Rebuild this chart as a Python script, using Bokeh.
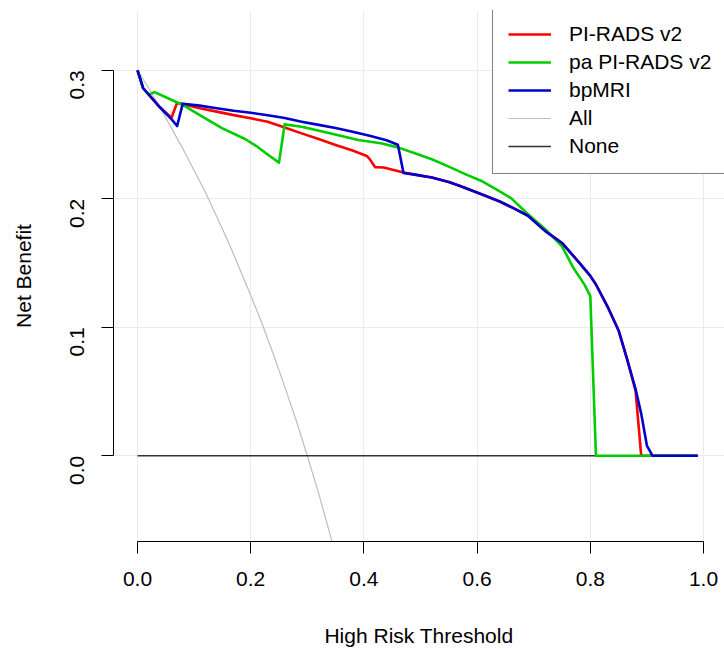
import math
from bokeh.plotting import figure
from bokeh.models import Range1d, FixedTicker, Legend, LegendItem
from bokeh.embed import file_html
from bokeh.resources import INLINE

# ---------------- data ----------------
x_ticks = [0.0, 0.2, 0.4, 0.6, 0.8, 1.0]
x_tick_labels = ["0.0", "0.2", "0.4", "0.6", "0.8", "1.0"]
y_ticks = [0.0, 0.1, 0.2, 0.3]
y_tick_labels = ["0.0", "0.1", "0.2", "0.3"]

series_names = ["PI-RADS v2", "pa PI-RADS v2", "bpMRI", "All", "None"]

pirads_x = [0.00, 0.01, 0.02, 0.04, 0.06, 0.07, 0.11, 0.14, 0.17, 0.20, 0.23, 0.26,
            0.29, 0.32, 0.35, 0.38, 0.405, 0.41, 0.42, 0.435, 0.47, 0.49, 0.52, 0.55,
            0.57, 0.61, 0.64, 0.665, 0.69, 0.72, 0.75, 0.78, 0.80, 0.81, 0.83, 0.85,
            0.865, 0.88, 0.89, 0.99]
pirads_y = [0.300, 0.286, 0.281, 0.271, 0.263, 0.2747, 0.2705, 0.2678, 0.2651, 0.2626,
            0.2600, 0.2555, 0.2509, 0.2465, 0.2419, 0.2375, 0.2333, 0.2310, 0.2246,
            0.2243, 0.2204, 0.2188, 0.2166, 0.2130, 0.2100, 0.2031, 0.1979, 0.1925,
            0.1868, 0.1750, 0.1656, 0.1505, 0.1400, 0.1333, 0.1165, 0.0975, 0.0752,
            0.0505, 0.0, 0.0]

pa_x = [0.00, 0.01, 0.02, 0.03, 0.05, 0.08, 0.11, 0.15, 0.19, 0.21, 0.23, 0.25, 0.26,
        0.29, 0.34, 0.39, 0.43, 0.46, 0.49, 0.52, 0.55, 0.58, 0.61, 0.64, 0.66, 0.69,
        0.72, 0.75, 0.77, 0.79, 0.80, 0.81, 0.99]
pa_y = [0.300, 0.286, 0.281, 0.283, 0.279, 0.273, 0.2651, 0.2548, 0.2465, 0.2410,
        0.2345, 0.2281, 0.2579, 0.2560, 0.2509, 0.2457, 0.2432, 0.2400, 0.2354, 0.2308,
        0.2250, 0.2190, 0.2134, 0.2057, 0.2005, 0.1880, 0.1765, 0.1630, 0.1463, 0.1330,
        0.1243, 0.0, 0.0]

bp_x = [0.00, 0.01, 0.02, 0.04, 0.06, 0.07, 0.08, 0.11, 0.14, 0.17, 0.20, 0.23, 0.26,
        0.29, 0.32, 0.35, 0.38, 0.41, 0.44, 0.46, 0.47, 0.49, 0.52, 0.55, 0.57, 0.61,
        0.64, 0.665, 0.69, 0.72, 0.75, 0.78, 0.80, 0.81, 0.83, 0.85, 0.865, 0.88, 0.89,
        0.90, 0.91, 0.99]
bp_y = [0.300, 0.286, 0.281, 0.271, 0.262, 0.2566, 0.274, 0.2725, 0.2705, 0.2685,
        0.2669, 0.2650, 0.2628, 0.2600, 0.2575, 0.2550, 0.2522, 0.2490, 0.2455, 0.2420,
        0.2200, 0.2188, 0.2166, 0.2130, 0.2100, 0.2031, 0.1979, 0.1925, 0.1868, 0.1750,
        0.1656, 0.1505, 0.1400, 0.1333, 0.1165, 0.0975, 0.0752, 0.0519, 0.0326, 0.0080,
        0.0, 0.0]

all_x = [0.00, 0.02, 0.04, 0.06, 0.08, 0.10, 0.12, 0.14, 0.16, 0.18, 0.20, 0.22,
         0.24, 0.26, 0.28, 0.30, 0.32, 0.34, 0.36]
all_y = [0.300, 0.286, 0.271, 0.255, 0.239, 0.222, 0.205, 0.186, 0.167, 0.146, 0.125,
         0.103, 0.079, 0.054, 0.028, 0.000, -0.029, -0.061, -0.094]

none_x = [0.0, 0.99]
none_y = [0.0, 0.0]

# ---------------- figure ----------------
FONT = "Liberation Sans"
FS = "21px"

p = figure(width=724, height=649, output_backend="svg", toolbar_location=None,
           x_range=Range1d(-0.0424, 1.0371), y_range=Range1d(-0.0667, 0.3465),
           min_border_left=113, min_border_right=0, min_border_top=10,
           min_border_bottom=106)
p.outline_line_color = None
p.background_fill_color = "white"
p.border_fill_color = "white"

p.xgrid.ticker = FixedTicker(ticks=x_ticks)
p.ygrid.ticker = FixedTicker(ticks=y_ticks)
p.xgrid.bounds = (-0.05, 1.05)
p.ygrid.bounds = (-0.1, 0.4)
for g in (p.xgrid[0], p.ygrid[0]):
    g.grid_line_color = "#EBEBEB"
    g.grid_line_width = 1

p.xaxis.ticker = FixedTicker(ticks=x_ticks)
p.xaxis.major_label_overrides = dict(zip(x_ticks, x_tick_labels))
p.yaxis.ticker = FixedTicker(ticks=y_ticks)
p.yaxis.major_label_overrides = dict(zip(y_ticks, y_tick_labels))
p.xaxis.bounds = (0, 1)
p.yaxis.bounds = (0, 0.3)
p.xaxis.axis_label = "High Risk Threshold"
p.yaxis.axis_label = "Net Benefit"
p.yaxis.major_label_orientation = math.pi / 2

for ax in (p.xaxis[0], p.yaxis[0]):
    ax.axis_line_color = "black"
    ax.axis_line_width = 1
    ax.major_tick_line_color = "black"
    ax.major_tick_out = 12
    ax.major_tick_in = 0
    ax.minor_tick_line_color = None
    ax.major_label_text_font = FONT
    ax.major_label_text_font_size = FS
    ax.major_label_text_color = "black"
    ax.axis_label_text_font = FONT
    ax.axis_label_text_font_size = FS
    ax.axis_label_text_font_style = "normal"
    ax.axis_label_text_color = "black"

p.xaxis.major_label_standoff = 18
p.xaxis.axis_label_standoff = 35
p.yaxis.major_label_standoff = 24
p.yaxis.axis_label_standoff = 26

r_all = p.line(all_x, all_y, line_color="#BEBEBE", line_width=1.2, line_join="round")
r_none = p.line(none_x, none_y, line_color="#333333", line_width=1.5)
r_pi = p.line(pirads_x, pirads_y, line_color="#FF0000", line_width=2.6, line_join="round")
r_pa = p.line(pa_x, pa_y, line_color="#00CD00", line_width=2.6, line_join="round")
r_bp = p.line(bp_x, bp_y, line_color="#0000CD", line_width=2.6, line_join="round")

renderers = [r_pi, r_pa, r_bp, r_all, r_none]
legend = Legend(items=[LegendItem(label=n, renderers=[r]) for n, r in zip(series_names, renderers)],
                location=(379, 367))
legend.margin = 0
legend.padding = 15
legend.spacing = 4
legend.glyph_width = 43
legend.glyph_height = 24
legend.label_height = 24
legend.label_standoff = 18
legend.label_text_font = FONT
legend.label_text_font_size = FS
legend.label_text_color = "black"
legend.border_line_color = "black"
legend.border_line_width = 1
legend.background_fill_color = "white"
legend.background_fill_alpha = 1.0
p.add_layout(legend)

open("out.html", "w").write(file_html(p, INLINE))
